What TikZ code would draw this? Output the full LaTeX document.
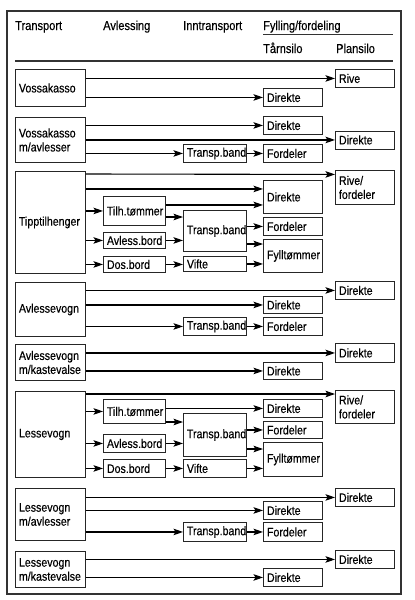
\documentclass[tikz,border=0pt]{standalone}
\usepackage{fontspec}
\setmainfont[FakeStretch=0.85,FakeBold=0.3]{Liberation Sans}
\usetikzlibrary{arrows.meta}
\begin{document}
\begin{tikzpicture}[x=1pt,y=-1pt,
  box/.style={draw=black!85,line width=0.9pt,anchor=north west,align=left,inner xsep=3.5pt,inner ysep=0pt,font=\fontsize{12.5}{14}\selectfont},
  tcol/.style={box,text width=63pt},
  acol/.style={box,text width=55pt},
  icol/.style={box,text width=56pt},
  dcol/.style={box,text width=52pt},
  pcol/.style={box,text width=52pt},
  hdr/.style={anchor=base west,inner sep=0pt,font=\fontsize{13}{15}\selectfont},
  arr/.style={line width=1.1pt,-{Stealth[length=9.5pt,width=6.5pt,inset=2pt]}}]
\useasboundingbox (0,0) rectangle (415,600);
\draw[line width=1.5pt,black!80] (7,11) rectangle (401,594);
% header
\node[hdr] (hT) at (15,30) {Transport};
\node[hdr] (hA) at (103,30) {Avlessing};
\node[hdr] (hI) at (183,30) {Inntransport};
\node[hdr] (hF) at (263,30) {Fylling/fordeling};
\node[hdr] (hTs) at (263,53) {Tårnsilo};
\node[hdr] (hP) at (336,53) {Plansilo};
\coordinate (u1) at (263,34.5);
\coordinate (u2) at (393,34.5);
\draw[line width=0.9pt,black!80] (u1) -- (u2);
\coordinate (h1) at (15,61);
\coordinate (h2) at (393,61);
\draw[line width=1.5pt,black!80] (h1) -- (h2);

% Row 1
\node[tcol,minimum height=37pt] (t1) at (15,69) {Vossakasso};
\node[pcol,minimum height=18pt] (p1) at (335,69) {Rive};
\node[dcol,minimum height=18pt] (d1) at (263,88) {Direkte};
\draw[arr] (t1.east |- p1.west) -- (p1.west);
\draw[arr] (t1.east |- d1.west) -- (d1.west);

% Row 2
\node[tcol,minimum height=45pt] (t2) at (15,117) {Vossakasso\\m/avlesser};
\node[dcol,minimum height=18pt] (d2) at (263,116) {Direkte};
\node[pcol,minimum height=18pt] (p2) at (335,130.5) {Direkte};
\node[icol,minimum height=18pt] (i2) at (183,144) {Transp.band};
\node[dcol,minimum height=18pt] (f2) at (263,144) {Fordeler};
\draw[arr] (t2.east |- d2.west) -- (d2.west);
\draw[arr] (t2.east |- p2.west) -- (p2.west);
\draw[arr] (t2.east |- i2.west) -- (i2.west);
\draw[arr] (i2.east) -- (f2.west);

% Row 3
\node[tcol,minimum height=102pt] (t3) at (15,171) {Tipptilhenger};
\node[pcol,minimum height=34pt] (p3) at (335,170) {Rive/\\fordeler};
\node[dcol,minimum height=33pt] (d3) at (263,180) {Direkte};
\node[acol,minimum height=29pt] (a3) at (103,196) {Tilh.tømmer};
\node[icol,minimum height=41pt] (i3) at (183,210) {Transp.band};
\node[dcol,minimum height=18pt] (f3) at (263,217) {Fordeler};
\node[dcol,minimum height=33pt] (y3) at (263,239) {Fylltømmer};
\node[acol,minimum height=16pt] (b3) at (103,232) {Avless.bord};
\node[acol,minimum height=16pt] (c3) at (103,256) {Dos.bord};
\node[icol,minimum height=15pt] (v3) at (183,256) {Vifte};
\draw[arr] ([yshift=-3pt]t3.north east) -- ([yshift=13pt]p3.west);
\draw[arr] ([yshift=8pt]d3.west -| t3.east) -- ([yshift=8pt]d3.west);
\draw[arr] ([yshift=-8pt]d3.west -| a3.east) -- ([yshift=-8pt]d3.west);
\draw[arr] (t3.east |- a3.west) -- (a3.west);
\draw[arr] ([yshift=-7pt]i3.north -| a3.east) -- ([yshift=-7pt]i3.north west);
\draw[arr] (t3.east |- b3.west) -- (b3.west);
\draw[arr] (b3.east) -- (b3.east -| i3.west);
\draw[arr] (i3.east |- f3.west) -- (f3.west);
\draw[arr] ([yshift=-5pt]y3.north -| i3.east) -- ([yshift=-5pt]y3.north west);
\draw[arr] (t3.east |- c3.west) -- (c3.west);
\draw[arr] (c3.east) -- (c3.east -| v3.west);
\draw[arr] (v3.east) -- (v3.east -| y3.west);

% Row 4
\node[tcol,minimum height=54pt] (t4) at (15,282) {Avlessevogn};
\node[pcol,minimum height=18pt] (p4) at (335,281) {Direkte};
\node[dcol,minimum height=17pt] (d4) at (263,296) {Direkte};
\node[icol,minimum height=18pt] (i4) at (183,317) {Transp.band};
\node[dcol,minimum height=18pt] (f4) at (263,317) {Fordeler};
\draw[arr] (t4.east |- p4.west) -- (p4.west);
\draw[arr] (t4.east |- d4.west) -- (d4.west);
\draw[arr] (t4.east |- i4.west) -- (i4.west);
\draw[arr] (i4.east) -- (f4.west);

% Row 5
\node[tcol,minimum height=36pt] (t5) at (15,344) {Avlessevogn\\m/kastevalse};
\node[pcol,minimum height=19pt] (p5) at (335,343) {Direkte};
\node[dcol,minimum height=17pt] (d5) at (263,362) {Direkte};
\draw[arr] (t5.east |- p5.west) -- (p5.west);
\draw[arr] (t5.east |- d5.west) -- (d5.west);

% Row 6
\node[tcol,minimum height=86pt] (t6) at (15,391) {Lessevogn};
\node[pcol,minimum height=33pt] (p6) at (335,390) {Rive/\\fordeler};
\node[dcol,minimum height=18pt] (d6) at (263,399) {Direkte};
\node[acol,minimum height=24pt] (a6) at (103,399) {Tilh.tømmer};
\node[icol,minimum height=43pt] (i6) at (183,413) {Transp.band};
\node[dcol,minimum height=17pt] (f6) at (263,421) {Fordeler};
\node[dcol,minimum height=34pt] (y6) at (263,442) {Fylltømmer};
\node[acol,minimum height=18pt] (b6) at (103,434) {Avless.bord};
\node[acol,minimum height=18pt] (c6) at (103,459) {Dos.bord};
\node[icol,minimum height=18pt] (v6) at (183,459) {Vifte};
\draw[arr] ([yshift=-3pt]t6.north east) -- ([yshift=-4pt]p6.north west);
\draw[arr] (a6.east |- d6.west) -- (d6.west);
\draw[arr] (t6.east |- a6.west) -- (a6.west);
\draw[arr] ([yshift=-9pt]i6.north -| a6.east) -- ([yshift=-9pt]i6.north west);
\draw[arr] (t6.east |- b6.west) -- (b6.west);
\draw[arr] (b6.east) -- (b6.east -| i6.west);
\draw[arr] (i6.east |- f6.west) -- (f6.west);
\draw[arr] ([yshift=-7pt]y6.north -| i6.east) -- ([yshift=-7pt]y6.north west);
\draw[arr] (t6.east |- c6.west) -- (c6.west);
\draw[arr] (c6.east) -- (c6.east -| v6.west);
\draw[arr] (v6.east) -- (v6.east -| y6.west);

% Row 7
\node[tcol,minimum height=52pt] (t7) at (15,488) {Lessevogn\\m/avlesser};
\node[pcol,minimum height=18pt] (p7) at (335,488) {Direkte};
\node[dcol,minimum height=18pt] (d7) at (263,501) {Direkte};
\node[icol,minimum height=19pt] (i7) at (183,522) {Transp.band};
\node[dcol,minimum height=19pt] (f7) at (263,522) {Fordeler};
\draw[arr] (t7.east |- p7.west) -- (p7.west);
\draw[arr] (t7.east |- d7.west) -- (d7.west);
\draw[arr] (t7.east |- i7.west) -- (i7.west);
\draw[arr] (i7.east) -- (f7.west);

% Row 8
\node[tcol,minimum height=36pt] (t8) at (15,551) {Lessevogn\\m/kastevalse};
\node[pcol,minimum height=18pt] (p8) at (335,550) {Direkte};
\node[dcol,minimum height=18pt] (d8) at (263,568) {Direkte};
\draw[arr] (t8.east |- p8.west) -- (p8.west);
\draw[arr] (t8.east |- d8.west) -- (d8.west);
\end{tikzpicture}
\end{document}
